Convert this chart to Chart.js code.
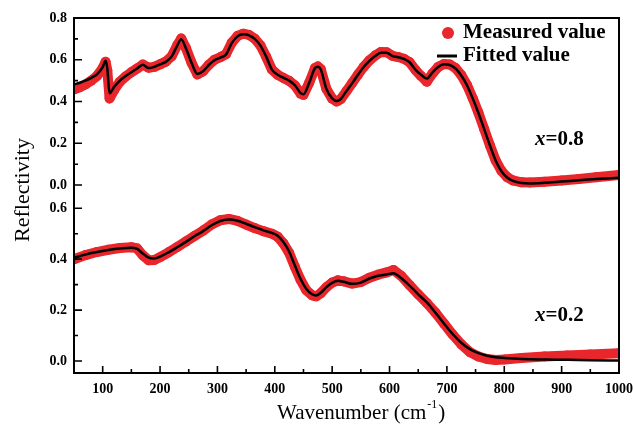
<!DOCTYPE html>
<html>
<head>
<meta charset="utf-8">
<script src="https://cdn.jsdelivr.net/npm/chart.js@4.4.1/dist/chart.umd.min.js"></script>
<style>
  html, body { margin: 0; padding: 0; background: #fff; }
  #wrap { width: 633px; height: 428px; position: relative; }
</style>
</head>
<body>
<div id="wrap"><canvas id="chart"></canvas></div>
<script>
// x = 0.8 sample (upper panel)
const wavenumberTop = [
  50, 60, 70, 80, 90, 100, 105, 108, 112, 120,
  130, 140, 150, 160, 170, 180, 190, 200, 210, 220,
  230, 237, 245, 255, 265, 275, 285, 295, 305, 315,
  325, 335, 345, 355, 365, 375, 385, 395, 405, 415,
  425, 435, 445, 450, 460, 470, 475, 480, 490, 500,
  508, 515, 525, 535, 545, 555, 565, 575, 585, 595,
  605, 615, 625, 635, 645, 655, 665, 675, 685, 695,
  705, 715, 725, 735, 745, 755, 765, 775, 785, 795,
  805, 815, 830, 845, 870, 900, 930, 960, 1000
];
const measuredTop = [
  0.458, 0.468, 0.482, 0.500, 0.522, 0.560, 0.590, 0.550, 0.415, 0.455,
  0.495, 0.520, 0.540, 0.558, 0.577, 0.562, 0.566, 0.578, 0.591, 0.616,
  0.670, 0.702, 0.657, 0.585, 0.530, 0.545, 0.576, 0.600, 0.612, 0.627,
  0.682, 0.714, 0.725, 0.719, 0.701, 0.668, 0.614, 0.553, 0.528, 0.513,
  0.499, 0.477, 0.438, 0.432, 0.490, 0.560, 0.568, 0.556, 0.460, 0.414,
  0.400, 0.411, 0.450, 0.489, 0.529, 0.566, 0.597, 0.620, 0.637, 0.636,
  0.619, 0.613, 0.605, 0.588, 0.552, 0.522, 0.495, 0.535, 0.566, 0.580,
  0.577, 0.560, 0.527, 0.479, 0.416, 0.346, 0.268, 0.190, 0.118, 0.068,
  0.038, 0.022, 0.013, 0.012, 0.016, 0.022, 0.029, 0.037, 0.048
];
const fittedTop = [
  0.482, 0.490, 0.500, 0.513, 0.530, 0.565, 0.595, 0.560, 0.440, 0.470,
  0.500, 0.522, 0.540, 0.558, 0.576, 0.560, 0.566, 0.578, 0.590, 0.615,
  0.668, 0.698, 0.655, 0.585, 0.532, 0.545, 0.575, 0.598, 0.610, 0.625,
  0.680, 0.712, 0.722, 0.717, 0.700, 0.668, 0.615, 0.553, 0.528, 0.514,
  0.500, 0.478, 0.440, 0.435, 0.490, 0.560, 0.566, 0.555, 0.460, 0.415,
  0.402, 0.412, 0.450, 0.488, 0.528, 0.565, 0.595, 0.618, 0.634, 0.634,
  0.618, 0.612, 0.604, 0.588, 0.553, 0.528, 0.510, 0.540, 0.566, 0.578,
  0.575, 0.558, 0.525, 0.478, 0.415, 0.345, 0.268, 0.190, 0.118, 0.066,
  0.036, 0.020, 0.010, 0.008, 0.011, 0.017, 0.023, 0.029, 0.035
];

// x = 0.2 sample (lower panel)
const wavenumberBottom = [
  50, 70, 90, 110, 130, 150, 160, 170, 180, 190,
  200, 215, 230, 245, 260, 275, 290, 305, 320, 335,
  350, 365, 380, 395, 405, 415, 425, 435, 445, 455,
  465, 472, 480, 490, 500, 510, 520, 535, 550, 565,
  580, 595, 607, 620, 635, 650, 665, 680, 695, 710,
  725, 740, 755, 770, 785, 800, 830, 870, 910, 950,
  1000
];
const measuredBottom = [
  0.400, 0.416, 0.428, 0.437, 0.444, 0.447, 0.442, 0.415, 0.396, 0.397,
  0.408, 0.427, 0.448, 0.469, 0.491, 0.512, 0.536, 0.553, 0.558, 0.550,
  0.536, 0.522, 0.510, 0.500, 0.488, 0.462, 0.425, 0.370, 0.318, 0.278,
  0.258, 0.254, 0.266, 0.290, 0.308, 0.317, 0.313, 0.304, 0.310, 0.327,
  0.339, 0.348, 0.357, 0.335, 0.298, 0.262, 0.228, 0.190, 0.147, 0.104,
  0.066, 0.035, 0.018, 0.008, 0.004, 0.006, 0.012, 0.018, 0.022, 0.026,
  0.031
];
const fittedBottom = [
  0.405, 0.418, 0.428, 0.436, 0.442, 0.445, 0.440, 0.422, 0.406, 0.403,
  0.410, 0.427, 0.447, 0.468, 0.490, 0.510, 0.533, 0.550, 0.556, 0.551,
  0.539, 0.526, 0.513, 0.503, 0.492, 0.467, 0.430, 0.375, 0.322, 0.283,
  0.262, 0.257, 0.268, 0.290, 0.307, 0.315, 0.311, 0.303, 0.308, 0.324,
  0.335, 0.340, 0.345, 0.326, 0.296, 0.262, 0.230, 0.190, 0.147, 0.106,
  0.072, 0.047, 0.031, 0.021, 0.015, 0.012, 0.008, 0.006, 0.005, 0.003,
  0.002
];

// axes
const xRange = [50, 1000];
const xMajorTicks = [100, 200, 300, 400, 500, 600, 700, 800, 900, 1000];
const xMinorTicks = [150, 250, 350, 450, 550, 650, 750, 850, 950];
const yRangeTop = [-0.05, 0.8];
const yMajorTop = [0, 0.2, 0.4, 0.6, 0.8];
const yMinorTop = [0.1, 0.3, 0.5, 0.7];
const yRangeBottom = [-0.047, 0.65];
const yMajorBottom = [0, 0.2, 0.4, 0.6];
const yMinorBottom = [0.1, 0.3, 0.5];
const sampleLabels = ['0.8', '0.2'];

const RED = '#e8262b';
const SERIF = "'Liberation Serif', 'Times New Roman', serif";

const pts = (xs, ys) => xs.map((x, i) => ({ x: x, y: ys[i] }));

const measuredStyle = {
  label: 'Measured value',
  borderColor: RED,
  backgroundColor: RED,
  borderWidth: 10,
  pointRadius: 5,
  pointBorderWidth: 0,
  pointBackgroundColor: RED,
  borderCapStyle: 'round',
  borderJoinStyle: 'round',
  order: 1
};
const fittedStyle = {
  label: 'Fitted value',
  borderColor: '#000',
  backgroundColor: '#000',
  borderWidth: 2.5,
  pointRadius: 0,
  cubicInterpolationMode: 'monotone',
  order: 0
};

function setTicks(values) {
  return scale => { scale.ticks = values.map(v => ({ value: v })); };
}

// frame, inward tick marks, titles and sample labels
const decorations = {
  id: 'decorations',
  afterDraw(chart) {
    const { ctx, chartArea: a, scales } = chart;
    ctx.save();
    ctx.strokeStyle = '#000';
    ctx.lineWidth = 2;
    ctx.strokeRect(a.left, a.top, a.right - a.left, a.bottom - a.top);

    ctx.lineWidth = 1.6;
    ctx.beginPath();
    xMajorTicks.forEach(v => {
      const px = scales.x.getPixelForValue(v);
      ctx.moveTo(px, a.bottom); ctx.lineTo(px, a.bottom - 7);
    });
    xMinorTicks.forEach(v => {
      const px = scales.x.getPixelForValue(v);
      ctx.moveTo(px, a.bottom); ctx.lineTo(px, a.bottom - 4);
    });
    [[scales.yTop, yMajorTop, yMinorTop], [scales.yBottom, yMajorBottom, yMinorBottom]].forEach(([s, major, minor]) => {
      major.forEach(v => {
        const py = s.getPixelForValue(v);
        ctx.moveTo(a.left, py); ctx.lineTo(a.left + 8, py);
      });
      minor.forEach(v => {
        const py = s.getPixelForValue(v);
        ctx.moveTo(a.left, py); ctx.lineTo(a.left + 4, py);
      });
    });
    ctx.stroke();

    ctx.fillStyle = '#000';
    ctx.textBaseline = 'middle';

    // axis titles
    ctx.font = '21px ' + SERIF;
    ctx.textAlign = 'left';
    const tx = 277, ty = 413;
    const head = 'Wavenumber (cm';
    ctx.fillText(head, tx, ty);
    let w = ctx.measureText(head).width;
    ctx.font = '12px ' + SERIF;
    ctx.fillText('-1', tx + w + 1, ty - 8);
    w += ctx.measureText('-1').width + 2;
    ctx.font = '21px ' + SERIF;
    ctx.fillText(')', tx + w, ty);

    ctx.save();
    ctx.translate(23, 190);
    ctx.rotate(-Math.PI / 2);
    ctx.font = '22px ' + SERIF;
    ctx.textAlign = 'center';
    ctx.fillText('Reflectivity', 0, 0);
    ctx.restore();

    // sample composition labels
    [[scales.yTop, 140], [scales.yBottom, 316]].forEach(([s, py], i) => {
      ctx.textAlign = 'left';
      ctx.font = 'italic bold 21px ' + SERIF;
      ctx.fillText('x', 535, py);
      const xw = ctx.measureText('x').width;
      ctx.font = 'bold 21px ' + SERIF;
      ctx.fillText('=' + sampleLabels[i], 535 + xw, py);
    });

    // legend
    const ds = chart.data.datasets;
    const measured = ds.find(d => d.label === 'Measured value');
    const fitted = ds.find(d => d.label === 'Fitted value');
    ctx.font = 'bold 21px ' + SERIF;
    ctx.fillStyle = measured.borderColor;
    ctx.beginPath();
    ctx.arc(448, 33, 6, 0, Math.PI * 2);
    ctx.fill();
    ctx.strokeStyle = fitted.borderColor;
    ctx.lineWidth = 3;
    ctx.beginPath();
    ctx.moveTo(437, 56); ctx.lineTo(457, 56);
    ctx.stroke();
    ctx.fillStyle = '#000';
    ctx.fillText(measured.label, 463, 33);
    ctx.fillText(fitted.label, 463, 56);
    ctx.restore();
  }
};

const tickFont = { family: SERIF, size: 14, weight: 'bold' };

new Chart(document.getElementById('chart'), {
  type: 'line',
  data: {
    datasets: [
      Object.assign({}, fittedStyle, { data: pts(wavenumberTop, fittedTop), yAxisID: 'yTop' }),
      Object.assign({}, measuredStyle, { data: pts(wavenumberTop, measuredTop), yAxisID: 'yTop' }),
      Object.assign({}, fittedStyle, { data: pts(wavenumberBottom, fittedBottom), yAxisID: 'yBottom' }),
      Object.assign({}, measuredStyle, { data: pts(wavenumberBottom, measuredBottom), yAxisID: 'yBottom' })
    ]
  },
  options: {
    responsive: true,
    maintainAspectRatio: false,
    animation: false,
    layout: { padding: { top: 18, right: 14, left: 0, bottom: 0 } },
    plugins: { legend: { display: false }, tooltip: { enabled: false } },
    scales: {
      x: {
        type: 'linear',
        min: xRange[0],
        max: xRange[1],
        afterBuildTicks: setTicks(xMajorTicks),
        afterFit(s) { s.height = 55; s.paddingLeft = 0; s.paddingRight = 0; },
        grid: { display: false, drawTicks: false },
        border: { display: false },
        ticks: { font: tickFont, color: '#000', padding: 8, autoSkip: false, maxRotation: 0, callback: v => String(v) }
      },
      yTop: {
        type: 'linear',
        position: 'left',
        stack: 'reflectivity',
        stackWeight: 1,
        weight: 1,
        min: yRangeTop[0],
        max: yRangeTop[1],
        afterBuildTicks: setTicks(yMajorTop),
        afterFit(s) { s.width = 74; },
        grid: { display: false, drawTicks: false },
        border: { display: false },
        ticks: { font: tickFont, color: '#000', padding: 7, autoSkip: false, callback: v => v.toFixed(1) }
      },
      yBottom: {
        type: 'linear',
        position: 'left',
        stack: 'reflectivity',
        stackWeight: 1,
        weight: 0,
        min: yRangeBottom[0],
        max: yRangeBottom[1],
        afterBuildTicks: setTicks(yMajorBottom),
        afterFit(s) { s.width = 74; },
        grid: { display: false, drawTicks: false },
        border: { display: false },
        ticks: { font: tickFont, color: '#000', padding: 7, autoSkip: false, callback: v => v.toFixed(1) }
      }
    }
  },
  plugins: [decorations]
});
</script>
</body>
</html>
